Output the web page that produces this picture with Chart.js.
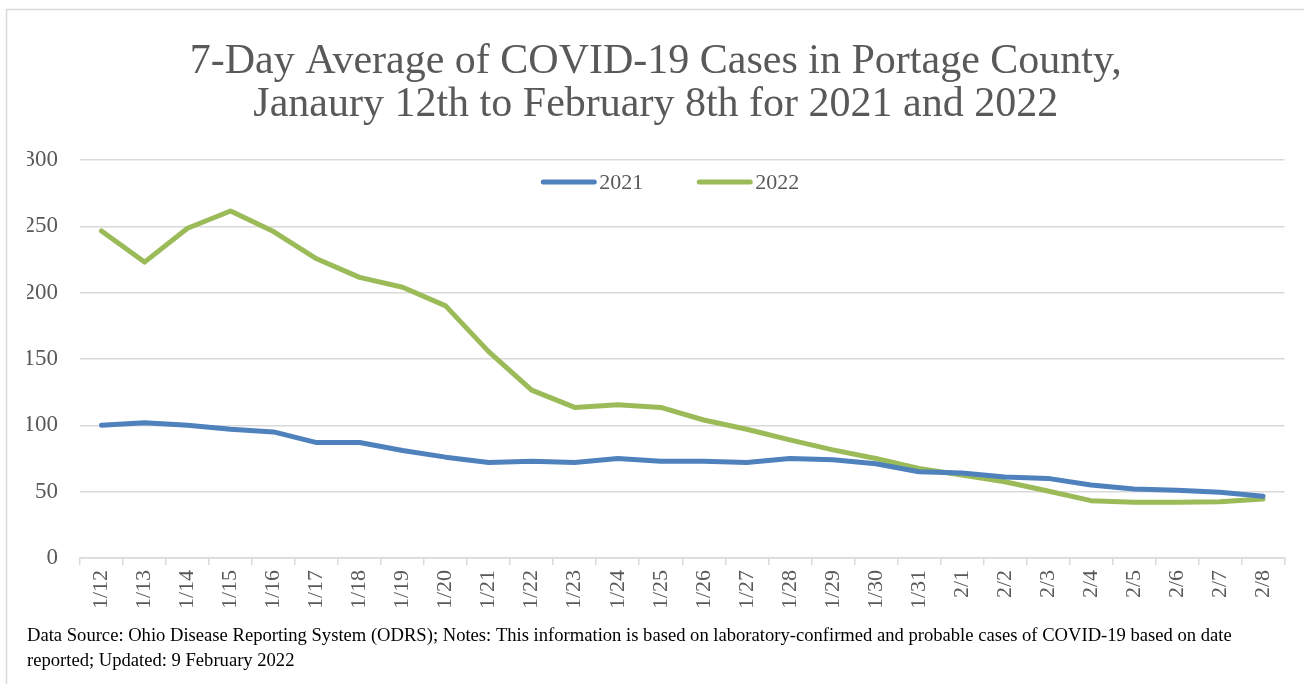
<!DOCTYPE html>
<html>
<head>
<meta charset="utf-8">
<script src="https://cdn.jsdelivr.net/npm/chart.js@4.4.0/dist/chart.umd.min.js"></script>
<style>
  html, body { margin: 0; padding: 0; background: #ffffff; }
  #grafico { display: block; }
</style>
</head>
<body>
<canvas id="grafico" width="1304" height="685"></canvas>
<script>
var fechas = ["1/12", "1/13", "1/14", "1/15", "1/16", "1/17", "1/18", "1/19", "1/20", "1/21",
  "1/22", "1/23", "1/24", "1/25", "1/26", "1/27", "1/28", "1/29", "1/30", "1/31",
  "2/1", "2/2", "2/3", "2/4", "2/5", "2/6", "2/7", "2/8"];

var casos2021 = [100, 102, 100, 97, 95, 87, 87, 81, 76, 72,
  73, 72, 75, 73, 73, 72, 75, 74, 71, 65,
  64, 61, 60, 55, 52, 51, 49.5, 46.5];

var casos2022 = [246.5, 223, 248.5, 261.5, 246, 225.5, 211.5, 204, 190, 155.5,
  126.5, 113.5, 115.5, 113.5, 104, 97, 89, 81.5, 75, 67.5,
  62.5, 57.5, 50.5, 43.2, 42, 42, 42.4, 44.5];

var ticksY = [0, 50, 100, 150, 200, 250, 300];

var tituloLineas = ["7-Day Average of COVID-19 Cases in Portage County,",
  "Janaury 12th to February 8th for 2021 and 2022"];

var notaLineas = ["Data Source: Ohio Disease Reporting System (ODRS); Notes: This information is based on laboratory-confirmed and probable cases of COVID-19 based on date",
  "reported; Updated: 9 February 2022"];

var serif = "'Liberation Serif', 'Times New Roman', serif";
var gris = "#595959";

// borde del grafico (solo arriba e izquierda, como en el original)
var bordePlugin = {
  id: "borde",
  beforeDraw: function (chart) {
    var ctx = chart.ctx;
    ctx.save();
    ctx.strokeStyle = "#d9d9d9";
    ctx.lineWidth = 1.5;
    ctx.beginPath();
    ctx.moveTo(6.5, 684);
    ctx.lineTo(6.5, 9.5);
    ctx.lineTo(1304, 9.5);
    ctx.stroke();
    ctx.restore();
  }
};

// leyenda dentro del area del grafico
var leyendaPlugin = {
  id: "leyendaDentro",
  afterDraw: function (chart) {
    var ctx = chart.ctx;
    var area = chart.chartArea;
    var sets = chart.data.datasets;
    var largo = 55, hueco = 3, separacion = 54;
    ctx.save();
    ctx.font = "22px " + serif;
    ctx.textBaseline = "middle";
    var total = 0;
    sets.forEach(function (ds, i) {
      total += largo + hueco + ctx.measureText(ds.label).width;
      if (i < sets.length - 1) total += separacion;
    });
    var x = (area.left + area.right) / 2 - 12 - total / 2;
    var y = area.top + 22;
    sets.forEach(function (ds) {
      ctx.strokeStyle = ds.borderColor;
      ctx.lineWidth = 5;
      ctx.lineCap = "round";
      ctx.beginPath();
      ctx.moveTo(x + 2, y);
      ctx.lineTo(x + largo - 2, y);
      ctx.stroke();
      x += largo + hueco;
      ctx.fillStyle = gris;
      ctx.fillText(ds.label, x, y + 1);
      x += ctx.measureText(ds.label).width + separacion;
    });
    ctx.restore();
  }
};

var ctx = document.getElementById("grafico").getContext("2d");
var chart = new Chart(ctx, {
  type: "line",
  data: {
    labels: fechas,
    datasets: [
      {
        label: "2021",
        data: casos2021,
        borderColor: "#4f81bd",
        backgroundColor: "#4f81bd",
        borderWidth: 5,
        pointRadius: 0,
        borderCapStyle: "round",
        borderJoinStyle: "round",
        tension: 0
      },
      {
        label: "2022",
        data: casos2022,
        borderColor: "#9bbb59",
        backgroundColor: "#9bbb59",
        borderWidth: 5,
        pointRadius: 0,
        borderCapStyle: "round",
        borderJoinStyle: "round",
        tension: 0
      }
    ]
  },
  options: {
    responsive: false,
    animation: false,
    layout: { padding: { left: 27, right: 19.5, top: 0, bottom: 0 } },
    scales: {
      x: {
        offset: true,
        grid: {
          offset: true,
          drawOnChartArea: false,
          drawTicks: true,
          tickLength: 7,
          color: "#d9d9d9",
          lineWidth: 1.5
        },
        border: { display: true, color: "#d9d9d9", width: 1.5 },
        ticks: {
          autoSkip: false,
          minRotation: 90,
          maxRotation: 90,
          padding: 5,
          color: gris,
          font: { family: serif, size: 22 }
        },
        afterFit: function (scale) { scale.height = 65.5; }
      },
      y: {
        min: 0,
        max: 300,
        afterBuildTicks: function (scale) {
          scale.ticks = ticksY.map(function (v) { return { value: v }; });
        },
        grid: { color: "#d9d9d9", lineWidth: 1.5, drawTicks: false },
        border: { display: false },
        ticks: {
          padding: 22,
          color: gris,
          font: { family: serif, size: 23 }
        },
        afterFit: function (scale) { scale.width = 53; }
      }
    },
    plugins: {
      legend: { display: false },
      tooltip: { enabled: false },
      title: {
        display: true,
        text: tituloLineas,
        color: gris,
        font: { family: serif, size: 42, weight: "normal", lineHeight: 1.03 },
        padding: { top: 40.3, bottom: 33.1 }
      },
      subtitle: {
        display: true,
        position: "bottom",
        align: "start",
        text: notaLineas,
        color: "#000000",
        font: { family: serif, size: 18.6, weight: "normal", lineHeight: 25 / 18.6 },
        padding: { top: 0, bottom: 11.5 }
      }
    }
  },
  plugins: [bordePlugin, leyendaPlugin]
});
</script>
</body>
</html>
